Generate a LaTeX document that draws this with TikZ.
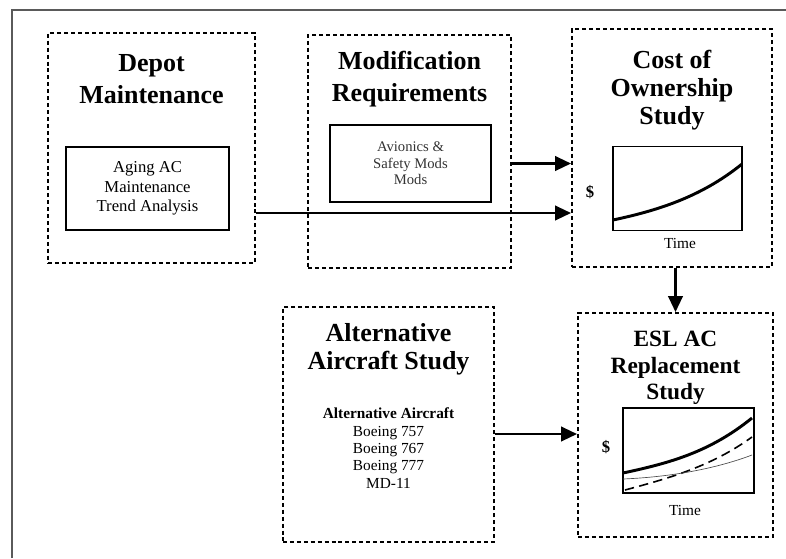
\documentclass[tikz,border=0pt]{standalone}
\usepackage{fontspec}
\setmainfont{Liberation Serif}
\usetikzlibrary{arrows.meta}

\begin{document}
\begin{tikzpicture}[x=0.75pt,y=0.75pt,yscale=-1,xscale=1,
    studybox/.style={draw, dash pattern=on 3pt off 2.2pt, line width=1.5pt, inner sep=0pt},
    innerbox/.style={draw, line width=1.1pt, inner sep=0pt},
    flow/.style={line width=1.6pt, -{Triangle[length=12pt,width=11pt]}},
    heading/.style={align=center, font=\bfseries\fontsize{19.5}{#1}\selectfont},
    heading/.default=24]
    \useasboundingbox (0,0) rectangle (786,558);
    %outer frame of the page
    \draw [color={rgb, 255:red, 90; green, 90; blue, 90 }][line width=1.8]    (12,558) -- (12,10) -- (786,10) ;

    %Depot Maintenance
    \node [studybox, minimum width=155.25pt, minimum height=172.5pt] (depot) at (151.5,148) {};
    \node [heading] (depottitle) at (151.5,79) {Depot\\Maintenance};
    \node [innerbox, minimum width=122.25pt, minimum height=62.25pt] (aging) at (147.5,188.5) {};
    \node [align=center, font=\fontsize{12.5}{14.5}\selectfont] (agingtext) at (aging) {Aging AC\\Maintenance\\Trend Analysis};

    %Modification Requirements
    \node [studybox, minimum width=152.25pt, minimum height=174.75pt] (mods) at (409.5,151.5) {};
    \node [heading=24.5] (modstitle) at (409.5,79) {Modification\\Requirements};
    \node [innerbox, minimum width=120.75pt, minimum height=57.75pt] (avio) at (410.5,163.5) {};
    \node [align=center, text=black!80, font=\fontsize{11}{12.4}\selectfont] (aviotext) at (avio) {Avionics \&\\Safety Mods\\Mods};

    %Cost of Ownership Study
    \node [studybox, minimum width=150pt, minimum height=178.5pt] (cost) at (672,148) {};
    \node [heading=21] (costtitle) at (672,90) {Cost of\\Ownership\\Study};
    \node [innerbox, minimum width=96.75pt, minimum height=63pt] (chartA) at (677.5,188.5) {};
    \node [font=\bfseries\fontsize{12.5}{14}\selectfont] (dollarA) at (590,192) {\$};
    \node [font=\fontsize{11.5}{14}\selectfont] (timeA) at (680,243) {Time};
    \draw [line width=2.2pt]    (613,220) .. controls (655,211) and (700,198) .. (742,164) ;

    %Alternative Aircraft Study
    \node [studybox, minimum width=158.25pt, minimum height=176.25pt] (alt) at (388.5,424.5) {};
    \node [heading=21] (alttitle) at (388.5,349) {Alternative\\Aircraft Study};
    \node [align=center, font=\fontsize{11.5}{13}\selectfont] (altlist) at (388.5,448) {\textbf{Alternative Aircraft}\\Boeing 757\\Boeing 767\\Boeing 777\\MD-11};

    %ESL AC Replacement Study
    \node [studybox, minimum width=146.25pt, minimum height=168pt] (esl) at (675.5,425) {};
    \node [heading=20, font=\bfseries\fontsize{17.5}{20}\selectfont] (esltitle) at (675.5,368) {ESL AC\\Replacement\\Study};
    \node [innerbox, minimum width=98.25pt, minimum height=63.75pt] (chartB) at (688.5,450.5) {};
    \node [font=\bfseries\fontsize{12.5}{14}\selectfont] (dollarB) at (606,447) {\$};
    \node [font=\fontsize{11.5}{14}\selectfont] (timeB) at (685,510) {Time};
    \draw [line width=2.2pt]    (623,473) .. controls (670,463) and (710,452) .. (752,418) ;
    \draw [line width=1.2pt, dash pattern=on 7pt off 4pt]    (625,490) .. controls (670,478) and (712,466) .. (752,437) ;
    \draw [line width=0.5pt, color=black!70]    (623,479) .. controls (670,477) and (715,469) .. (752,455) ;

    %connectors
    \draw [flow] (mods.east |- avio.east) -- (cost.west |- avio.east) ;
    \draw [flow] (depot.east |- 0,213) -- (cost.west |- 0,213) ;
    \draw [flow] (esl.north |- cost.south) -- (esl.north) ;
    \draw [flow] (alt.east |- 0,434) -- (esl.west |- 0,434) ;
\end{tikzpicture}
\end{document}
